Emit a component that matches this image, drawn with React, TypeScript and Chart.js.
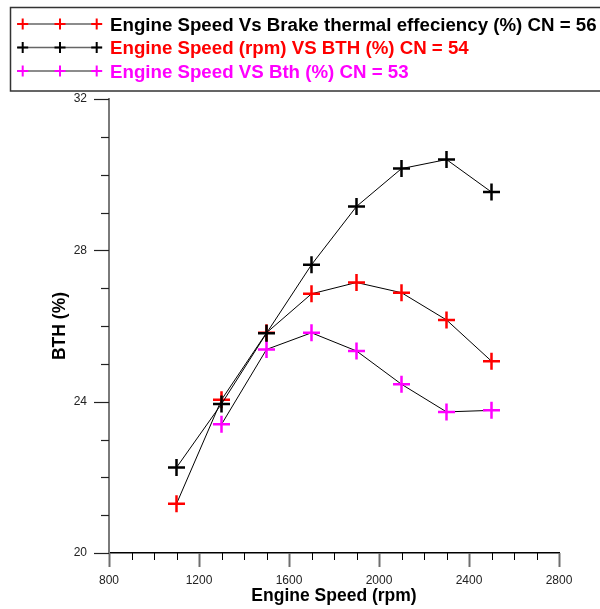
import React, { useEffect, useRef } from "react";
import { Chart, registerables } from "chart.js";

Chart.register(...registerables);

// ---- data ----
const speedCN56 = [1100, 1300, 1500, 1700, 1900, 2100, 2300, 2500];
const bthCN56 = [21.3, 24.05, 25.82, 26.85, 27.15, 26.88, 26.16, 25.07];

const speedCN54 = [1100, 1300, 1500, 1700, 1900, 2100, 2300, 2500];
const bthCN54 = [22.26, 23.94, 25.81, 27.62, 29.16, 30.16, 30.4, 29.54];

const speedCN53 = [1300, 1500, 1700, 1900, 2100, 2300, 2500];
const bthCN53 = [23.4, 25.38, 25.82, 25.34, 24.46, 23.73, 23.77];

const legendLabels = [
  "Engine Speed Vs Brake thermal effeciency (%) CN = 56",
  "Engine Speed (rpm) VS BTH (%) CN = 54",
  "Engine Speed VS Bth (%) CN = 53",
];
const legendTextColors = ["#000000", "#FF0000", "#FF00FF"];
const markerColors = ["#FF0000", "#000000", "#FF00FF"];

const xTickValues = [800, 1200, 1600, 2000, 2400, 2800];
const yTickValues = [20, 24, 28, 32];
const xTitle = "Engine Speed (rpm)";
const yTitle = "BTH (%)";

const FONT = "'Liberation Sans', Arial, Helvetica, sans-serif";

function pts(xs: number[], ys: number[]) {
  return xs.map((x, i) => ({ x, y: ys[i] }));
}

const decorPlugin = {
  id: "decor",
  afterDraw(chart: any) {
    const ctx = chart.ctx as CanvasRenderingContext2D;
    const xs = chart.scales.x;
    const ys = chart.scales.y;
    const area = chart.chartArea;
    ctx.save();
    // x ticks
    for (let v = 800; v <= 2800; v += 100) {
      const px = Math.round(xs.getPixelForValue(v)) + 0.5;
      const major = v % 400 === 0;
      ctx.beginPath();
      ctx.strokeStyle = major ? "#6e6e6e" : "#000";
      ctx.lineWidth = major ? 2 : 1;
      ctx.moveTo(px, area.bottom);
      ctx.lineTo(px, area.bottom + (major ? 14 : 7));
      ctx.stroke();
    }
    // y ticks
    for (let v = 20; v <= 32; v += 1) {
      const py = Math.round(ys.getPixelForValue(v)) + 0.5;
      const major = v % 4 === 0;
      ctx.beginPath();
      ctx.strokeStyle = "#222";
      ctx.lineWidth = 1.2;
      ctx.moveTo(area.left, py);
      ctx.lineTo(area.left - (major ? 15 : 8), py);
      ctx.stroke();
    }
    // legend box
    ctx.strokeStyle = "#333";
    ctx.lineWidth = 1.5;
    ctx.strokeRect(10.5, 7.5, 600, 83.5);
    const rows = [24, 47.5, 71];
    const crossX = [22.7, 60, 96.7];
    rows.forEach((ry, i) => {
      ctx.beginPath();
      ctx.strokeStyle = "#666";
      ctx.lineWidth = 1.5;
      ctx.moveTo(17, ry);
      ctx.lineTo(102, ry);
      ctx.stroke();
      ctx.strokeStyle = markerColors[i];
      ctx.lineWidth = 2;
      crossX.forEach((cx) => {
        ctx.beginPath();
        ctx.moveTo(cx - 5.5, ry);
        ctx.lineTo(cx + 5.5, ry);
        ctx.moveTo(cx, ry - 5.5);
        ctx.lineTo(cx, ry + 5.5);
        ctx.stroke();
      });
      ctx.fillStyle = legendTextColors[i];
      ctx.font = `bold 18.7px ${FONT}`;
      ctx.textBaseline = "alphabetic";
      ctx.textAlign = "left";
      ctx.fillText(legendLabels[i], 110, ry + 6.7);
    });
    ctx.restore();
  },
};

export default function App() {
  const ref = useRef<HTMLCanvasElement | null>(null);
  useEffect(() => {
    if (!ref.current) return;
    const common = {
      borderColor: "#000000",
      borderWidth: 1,
      pointStyle: "cross",
      pointRadius: 8.5,
      pointBorderWidth: 2.5,
      fill: false,
      tension: 0,
      showLine: true,
    };
    const chart = new Chart(ref.current, {
      type: "line",
      data: {
        datasets: [
          { ...common, label: legendLabels[0], data: pts(speedCN56, bthCN56), pointBorderColor: markerColors[0], pointBackgroundColor: markerColors[0], order: 1 },
          { ...common, label: legendLabels[1], data: pts(speedCN54, bthCN54), pointBorderColor: markerColors[1], pointBackgroundColor: markerColors[1], order: 0 },
          { ...common, label: legendLabels[2], data: pts(speedCN53, bthCN53), pointBorderColor: markerColors[2], pointBackgroundColor: markerColors[2], order: 2 },
        ] as any,
      },
      options: {
        animation: false,
        responsive: false,
        maintainAspectRatio: false,
        layout: { padding: { top: 99, left: 0, right: 41, bottom: 0 } },
        plugins: { legend: { display: false }, tooltip: { enabled: false } },
        scales: {
          x: {
            type: "linear",
            min: 800,
            max: 2800,
            afterFit(s: any) { s.height = 56; },
            afterBuildTicks(s: any) { s.ticks = xTickValues.map((v) => ({ value: v })); },
            ticks: { padding: 20, autoSkip: false, maxRotation: 0, color: "#222", font: { family: FONT, size: 12 }, callback: (v: any) => String(v) },
            grid: { display: false, drawTicks: false },
            border: { display: true, color: "#000", width: 1.5 },
            title: { display: true, text: xTitle, color: "#000", font: { family: FONT, size: 17.5, weight: "bold" }, padding: { top: 0, bottom: 2.5 } },
          },
          y: {
            type: "linear",
            min: 20,
            max: 32,
            afterFit(s: any) { s.width = 109; },
            afterBuildTicks(s: any) { s.ticks = yTickValues.map((v) => ({ value: v })); },
            ticks: { padding: 22, autoSkip: false, color: "#222", font: { family: FONT, size: 12 }, callback: (v: any) => String(v) },
            grid: { display: false, drawTicks: false },
            border: { display: true, color: "#7a7a7a", width: 2 },
            title: { display: true, text: yTitle, color: "#000", font: { family: FONT, size: 17.5, weight: "bold" }, padding: { top: 49.5, bottom: 0 } },
          },
        },
      } as any,
      plugins: [decorPlugin],
    });
    return () => chart.destroy();
  }, []);
  return (
    <div style={{ position: "absolute", left: 0, top: 0, width: 600, height: 609, background: "#fff" }}>
      <canvas ref={ref} width={600} height={609} style={{ display: "block", width: 600, height: 609 }} />
    </div>
  );
}
